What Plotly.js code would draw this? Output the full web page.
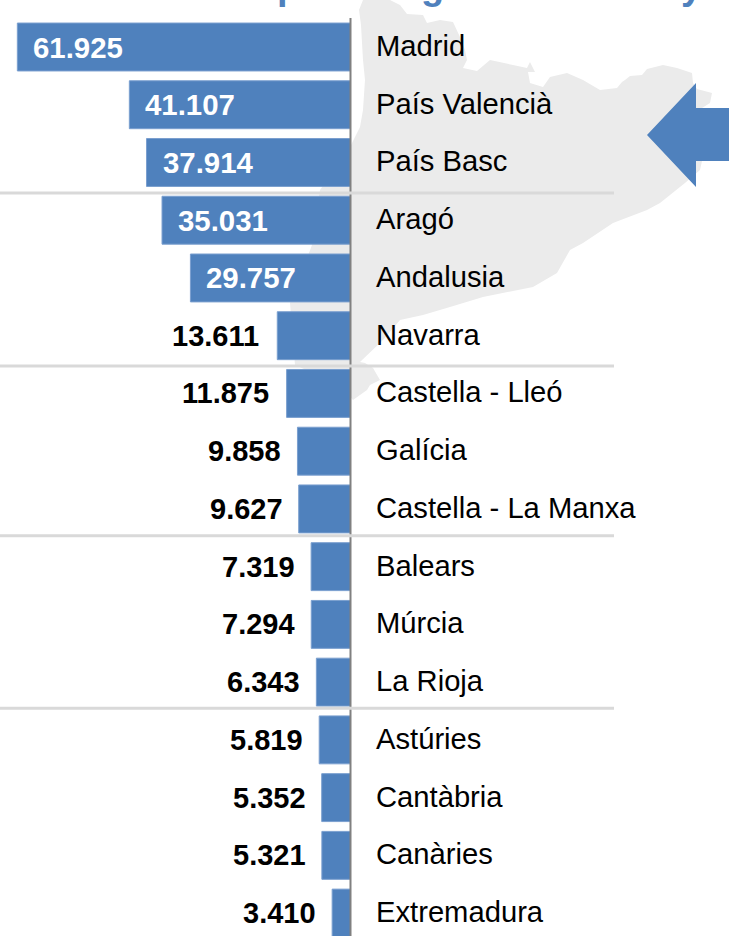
<!DOCTYPE html>
<html>
<head>
<meta charset="utf-8">
<script src="https://cdn.plot.ly/plotly-3.0.1.min.js"></script>
<style>html,body{margin:0;padding:0;background:#fff;overflow:hidden}#c{width:729px;height:936px}</style>
</head>
<body>
<div id="c"></div>
<script>
const categories = ["Madrid","País Valencià","País Basc","Aragó","Andalusia","Navarra","Castella - Lleó","Galícia","Castella - La Manxa","Balears","Múrcia","La Rioja","Astúries","Cantàbria","Canàries","Extremadura"];
const values = [61925,41107,37914,35031,29757,13611,11875,9858,9627,7319,7294,6343,5819,5352,5321,3410];
const valueLabels = ["61.925","41.107","37.914","35.031","29.757","13.611","11.875","9.858","9.627","7.319","7.294","6.343","5.819","5.352","5.321","3.410"];
const insideCount = 5;
const W = 729, H = 936;
const BLUE = "#4f81bd";
const FONT = "Liberation Sans, Arial, sans-serif";
const zeroPx = 350.5, pxPerUnit = 0.00538, rowPx = 57.74, firstRowPx = 47;

const mapOutline = [[363,0],[390,0],[400,5],[407,14],[423,15],[427,23],[440,20],[453,22],[460,37],[465,50],[467,60],[463,68],[477,71],[490,60],[513,65],[527,68],[530,62],[535,72],[528,72],[530,83],[543,87],[550,77],[567,73],[583,80],[600,90],[617,88],[622,82],[625,80],[630,76],[642,75],[647,69],[663,65],[677,68],[692,73],[693,83],[697,89],[712,93],[710,103],[702,108],[702,161],[700,170],[685,183],[670,195],[660,203],[647,210],[613,223],[583,243],[570,250],[557,273],[533,287],[483,297],[450,307],[423,315],[400,320],[383,340],[360,362],[365,363],[373,368],[380,380],[370,385],[367,390],[353,400],[340,385],[295,365],[290,303],[312,245],[320,190],[350,147],[360,127],[363,110],[365,80],[363,60],[361,25],[359,10]];
const arrowOutline = [[647,135],[696,83],[696,108],[729,108],[729,161],[696,161],[696,187]];
const separatorsPx = [193,366,535.7,708.3];

const toPath = pts => "M" + pts.map(p => (p[0]/W).toFixed(5) + "," + (1-p[1]/H).toFixed(5)).join("L") + "Z";
const shapes = [
  {type:"path",layer:"below",xref:"paper",yref:"paper",path:toPath(mapOutline),fillcolor:"#ebebeb",line:{width:0}},
  {type:"line",layer:"above",xref:"x",yref:"paper",x0:0,x1:0,y0:0,y1:1-18/H,line:{color:"#808080",width:2}},
  {type:"path",layer:"above",xref:"paper",yref:"paper",path:toPath(arrowOutline),fillcolor:BLUE,line:{width:0}}
];
separatorsPx.forEach(y => shapes.push({type:"line",layer:"above",xref:"paper",yref:"paper",x0:0,x1:614/W,y0:1-y/H,y1:1-y/H,line:{color:"#d9d9d9",width:3}}));

const annotations = [];
categories.forEach((c,i) => {
  annotations.push({x:0,y:c,xref:"x",yref:"y",text:c,showarrow:false,xanchor:"left",xshift:23,yshift:1,font:{family:FONT,size:29.2,color:"#000"}});
  const inside = i < insideCount;
  const outsideShift = values[i] >= 10000 ? -16 : -14;
  annotations.push({x:values[i],y:c,xref:"x",yref:"y",text:valueLabels[i],showarrow:false,xanchor:inside?"left":"right",xshift:inside?14:outsideShift,yshift:0,font:{family:FONT,size:inside?29.4:29,color:inside?"#fff":"#000",weight:"bold"}});
});
[["p",288],["g",432],["y",691]].forEach(t => annotations.push({x:t[1]/W,y:1+3/H,xref:"paper",yref:"paper",text:t[0],showarrow:false,xanchor:"center",yanchor:"middle",yshift:11,font:{family:FONT,size:38,color:BLUE,weight:"bold"}}));

Plotly.newPlot("c",[{
  type:"bar",orientation:"h",x:values,y:categories,width:0.83,
  marker:{color:BLUE,line:{color:"#7a9fcf",width:1}},hoverinfo:"x+y"
}],{
  width:W,height:H,margin:{l:0,r:0,t:0,b:0},showlegend:false,
  paper_bgcolor:"#fff",plot_bgcolor:"rgba(0,0,0,0)",
  xaxis:{range:[zeroPx/pxPerUnit,(zeroPx-W)/pxPerUnit],showgrid:false,zeroline:false,showticklabels:false,ticks:""},
  yaxis:{type:"category",categoryorder:"array",categoryarray:categories,range:[(H-firstRowPx)/rowPx,-firstRowPx/rowPx],showgrid:false,zeroline:false,showticklabels:false,ticks:""},
  shapes:shapes,annotations:annotations
},{displayModeBar:false,staticPlot:true});
</script>
</body>
</html>
